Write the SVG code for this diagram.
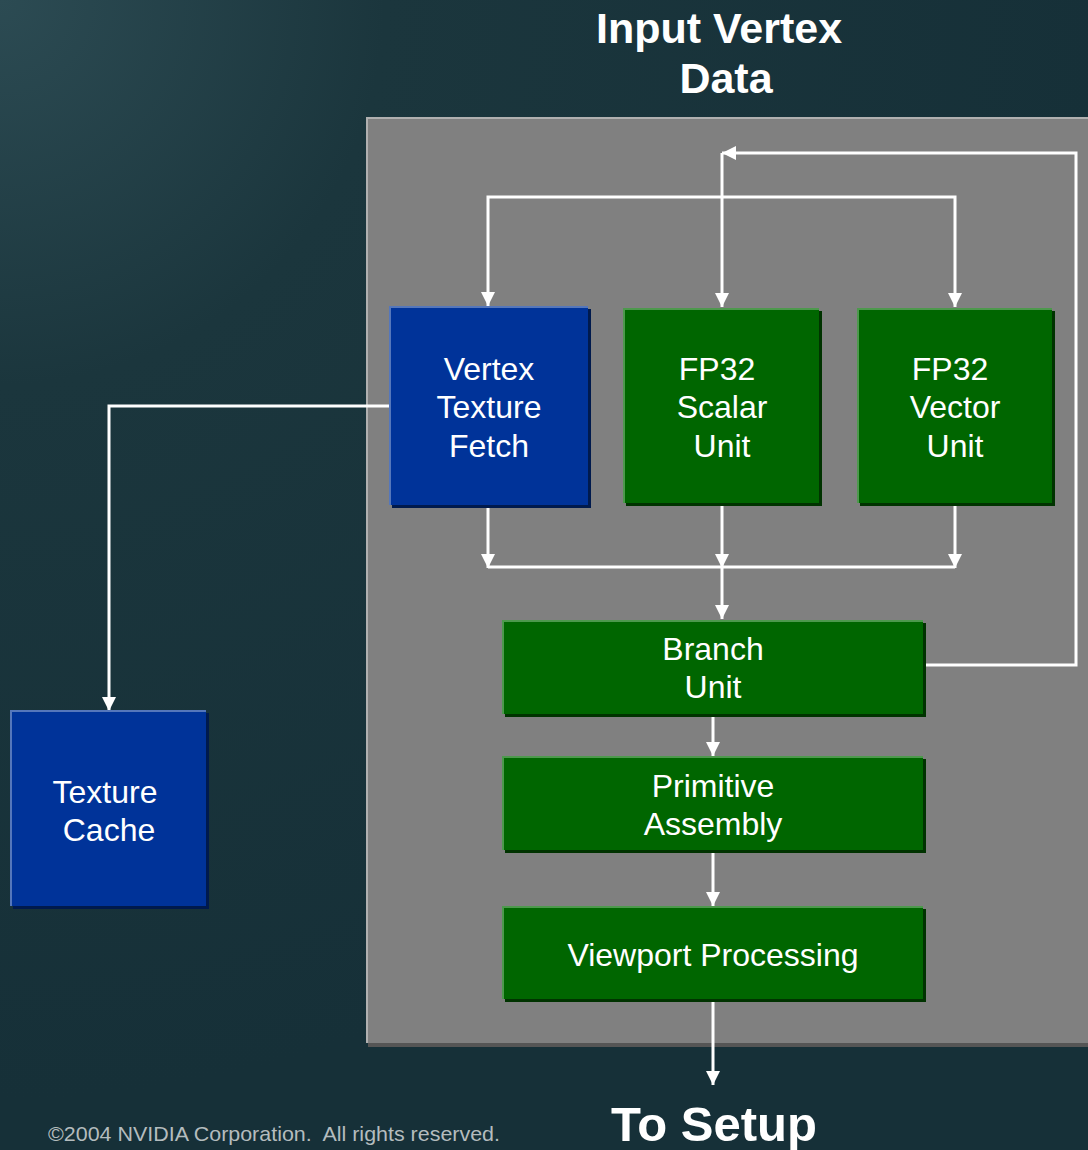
<svg xmlns="http://www.w3.org/2000/svg" width="1088" height="1150" viewBox="0 0 1088 1150">
<defs>
<radialGradient id="bg" cx="0" cy="0" r="1100" gradientUnits="userSpaceOnUse">
<stop offset="0" stop-color="#2c4b53"/>
<stop offset="0.35" stop-color="#1b363d"/>
<stop offset="1" stop-color="#163038"/>
</radialGradient>
<marker id="ah" viewBox="0 0 14 14" refX="14" refY="7" markerWidth="14" markerHeight="14" markerUnits="userSpaceOnUse" orient="auto">
<path d="M0,0 L14,7 L0,14 Z" fill="#ffffff"/>
</marker>
</defs>
<style>
.lbl{font-family:"Liberation Sans",Arial,sans-serif;font-size:32px;fill:#ffffff;text-anchor:middle}
.title{font-family:"Liberation Sans",Arial,sans-serif;font-weight:bold;fill:#ffffff;text-anchor:middle}
.blue{fill:#003399}
.green{fill:#006600}
.bshadow{fill:#001a4d}
.gshadow{fill:#003300}
.bhi{fill:none;stroke:#5577bb;stroke-width:2}
.ghi{fill:none;stroke:#4d994d;stroke-width:2}
.conn{fill:none;stroke:#ffffff;stroke-width:3}
</style>
<rect x="0" y="0" width="1088" height="1150" fill="url(#bg)"/>

<g id="panel">
<rect x="368" y="119" width="722" height="928" fill="#555555"/>
<rect x="366" y="117" width="722" height="926" fill="#808080"/>
<path d="M367,1043 L367,118 L1088,118" fill="none" stroke="#b0b0b0" stroke-width="2"/>
</g>

<g id="title-input">
<text class="title" x="719" y="43" font-size="43">Input Vertex</text>
<text class="title" x="726" y="93" font-size="43">Data</text>
</g>

<g id="connectors">
<polyline class="conn" points="488,230 488,197 955,197 955,230"/>
<line class="conn" x1="488" y1="230" x2="488" y2="306" marker-end="url(#ah)"/>
<line class="conn" x1="955" y1="230" x2="955" y2="307" marker-end="url(#ah)"/>
<line class="conn" x1="722" y1="153" x2="722" y2="307" marker-end="url(#ah)"/>
<polyline class="conn" points="925,665 1076,665 1076,153 722,153" marker-end="url(#ah)"/>
<line class="conn" x1="488" y1="507" x2="488" y2="568" marker-end="url(#ah)"/>
<line class="conn" x1="722" y1="505" x2="722" y2="568" marker-end="url(#ah)"/>
<line class="conn" x1="955" y1="505" x2="955" y2="568" marker-end="url(#ah)"/>
<line class="conn" x1="488" y1="567" x2="955" y2="567"/>
<line class="conn" x1="722" y1="567" x2="722" y2="619" marker-end="url(#ah)"/>
<line class="conn" x1="713" y1="715" x2="713" y2="756" marker-end="url(#ah)"/>
<line class="conn" x1="713" y1="852" x2="713" y2="906" marker-end="url(#ah)"/>
<line class="conn" x1="713" y1="1000" x2="713" y2="1085" marker-end="url(#ah)"/>
<polyline class="conn" points="389,406 109,406 109,711" marker-end="url(#ah)"/>
</g>

<g id="vertex-texture-fetch">
<rect class="bshadow" x="392" y="309" width="199" height="199"/>
<rect class="blue" x="389" y="306" width="199" height="199"/>
<path class="bhi" d="M390,505 L390,307 L588,307"/>
<text class="lbl" x="489" y="380">Vertex</text>
<text class="lbl" x="489" y="418">Texture</text>
<text class="lbl" x="489" y="457">Fetch</text>
</g>

<g id="fp32-scalar">
<rect class="gshadow" x="626" y="311" width="196" height="195"/>
<rect class="green" x="623" y="308" width="196" height="195"/>
<path class="ghi" d="M624,503 L624,309 L819,309"/>
<text class="lbl" x="717" y="380">FP32</text>
<text class="lbl" x="722" y="418">Scalar</text>
<text class="lbl" x="722" y="457">Unit</text>
</g>

<g id="fp32-vector">
<rect class="gshadow" x="860" y="311" width="195" height="195"/>
<rect class="green" x="857" y="308" width="195" height="195"/>
<path class="ghi" d="M858,503 L858,309 L1052,309"/>
<text class="lbl" x="950" y="380">FP32</text>
<text class="lbl" x="955" y="418">Vector</text>
<text class="lbl" x="955" y="457">Unit</text>
</g>

<g id="branch-unit">
<rect class="gshadow" x="505" y="623" width="421" height="94"/>
<rect class="green" x="502" y="620" width="421" height="94"/>
<path class="ghi" d="M503,714 L503,621 L923,621"/>
<text class="lbl" x="713" y="660">Branch</text>
<text class="lbl" x="713" y="698">Unit</text>
</g>

<g id="primitive-assembly">
<rect class="gshadow" x="505" y="759" width="421" height="94"/>
<rect class="green" x="502" y="756" width="421" height="94"/>
<path class="ghi" d="M503,850 L503,757 L923,757"/>
<text class="lbl" x="713" y="797">Primitive</text>
<text class="lbl" x="713" y="835">Assembly</text>
</g>

<g id="viewport-processing">
<rect class="gshadow" x="505" y="909" width="421" height="93"/>
<rect class="green" x="502" y="906" width="421" height="93"/>
<path class="ghi" d="M503,999 L503,907 L923,907"/>
<text class="lbl" x="713" y="966">Viewport Processing</text>
</g>

<g id="texture-cache">
<rect class="bshadow" x="13" y="713" width="196" height="196"/>
<rect class="blue" x="10" y="710" width="196" height="196"/>
<path class="bhi" d="M11,906 L11,711 L206,711"/>
<text class="lbl" x="105" y="803">Texture</text>
<text class="lbl" x="109" y="841">Cache</text>
</g>

<g id="to-setup">
<text class="title" x="714" y="1141" font-size="49">To Setup</text>
</g>

<text x="48" y="1141" font-family="'Liberation Sans',Arial,sans-serif" font-size="21" fill="#b4bcbe" style="white-space:pre" textLength="452" lengthAdjust="spacingAndGlyphs">©2004 NVIDIA Corporation.  All rights reserved.</text>
</svg>
